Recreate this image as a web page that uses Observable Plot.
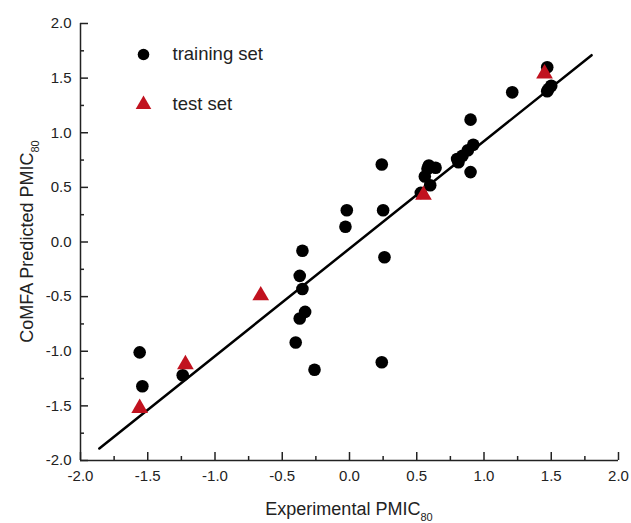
<!DOCTYPE html>
<html><head><meta charset="utf-8">
<script src="https://cdn.jsdelivr.net/npm/d3@7"></script>
<script src="https://cdn.jsdelivr.net/npm/@observablehq/plot@0.6"></script>
<style>
body{margin:0;background:#fff;}
svg{font-family:"Liberation Sans",Arial,sans-serif;}
</style>
</head><body><div id="chart"></div>
<script>
// Training set (black circles): experimental vs predicted PMIC80
const trainingX = [-1.56, -1.54, -1.24, -0.40, -0.37, -0.33, -0.35, -0.37, -0.35, -0.26,
                   -0.02, -0.03, 0.24, 0.25, 0.26, 0.24, 0.53, 0.56, 0.58, 0.59, 0.64, 0.60,
                   0.80, 0.81, 0.84, 0.88, 0.92, 0.90, 0.90, 1.21, 1.47, 1.47, 1.50, 1.48];
const trainingY = [-1.01, -1.32, -1.22, -0.92, -0.70, -0.64, -0.43, -0.31, -0.08, -1.17,
                   0.29, 0.14, 0.71, 0.29, -0.14, -1.10, 0.45, 0.60, 0.67, 0.70, 0.68, 0.52,
                   0.76, 0.73, 0.79, 0.84, 0.89, 0.64, 1.12, 1.37, 1.60, 1.38, 1.43, 1.40];
// Test set (red triangles)
const testX = [-1.56, -1.22, -0.66, 0.55, 1.45];
const testY = [-1.52, -1.12, -0.49, 0.43, 1.54];
// Regression line end points
const fitX = [-1.86, 1.80];
const fitY = [-1.89, 1.71];
// Axis ticks
const xMajorTicks = [-2, -1.5, -1, -0.5, 0, 0.5, 1, 1.5, 2];
const xMinorTicks = [-1.75, -1.25, -0.75, -0.25, 0.25, 0.75, 1.25, 1.75];
const yMajorTicks = [-2, -1.5, -1, -0.5, 0, 0.5, 1, 1.5, 2];
const yMinorTicks = [-1.75, -1.25, -0.75, -0.25, 0.25, 0.75, 1.25, 1.75];
const legendLabels = ["training set", "test set"];
const xTitle = ["Experimental PMIC", "80"];
const yTitle = ["CoMFA Predicted PMIC", "80"];

const training = trainingX.map((x, i) => ({x, y: trainingY[i]}));
const test = testX.map((x, i) => ({x, y: testY[i]}));
const fit = fitX.map((x, i) => ({x, y: fitY[i]}));

const W = 631, H = 523, mL = 80, mR = 13, mT = 23, mB = 63;
const innerW = W - mL - mR, innerH = H - mT - mB;
const ink = "#222";
const red = "#c1121f";
const fmt = d => d.toFixed(1);

const plot = Plot.plot({
  width: W, height: H,
  marginLeft: mL, marginRight: mR, marginTop: mT, marginBottom: mB,
  x: {domain: [-2, 2]},
  y: {domain: [-2, 2]},
  style: {fontFamily: "Liberation Sans, Arial, sans-serif", fontSize: "15px", color: ink, background: "white"},
  marks: [
    Plot.axisX(xMajorTicks, {tickSize: 0, tickPadding: 10, tickFormat: fmt, label: null, fontSize: 15}),
    Plot.axisY(yMajorTicks, {tickSize: 0, tickPadding: 9, tickFormat: fmt, label: null, fontSize: 15}),
    Plot.tickX(xMajorTicks, {x: d => d, insetTop: innerH - 8, stroke: ink, strokeWidth: 1.5}),
    Plot.tickX(xMinorTicks, {x: d => d, insetTop: innerH - 4, stroke: ink, strokeWidth: 1.5}),
    Plot.tickY(yMajorTicks, {y: d => d, insetRight: innerW - 8, stroke: ink, strokeWidth: 1.5}),
    Plot.tickY(yMinorTicks, {y: d => d, insetRight: innerW - 4, stroke: ink, strokeWidth: 1.5}),
    Plot.ruleX([-2], {stroke: ink, strokeWidth: 1.5}),
    Plot.ruleY([-2], {stroke: ink, strokeWidth: 1.5}),
    Plot.line(fit, {x: "x", y: "y", stroke: "black", strokeWidth: 2.5}),
    Plot.dot(training, {x: "x", y: "y", r: 6.3, fill: "black"}),
    Plot.dot(test, {x: "x", y: "y", r: 6.2, symbol: "triangle", fill: red}),
    // legend
    Plot.dot([legendLabels[0]], {x: null, y: null, frameAnchor: "top-left", dx: 63, dy: 31, r: 5.8, fill: "black"}),
    Plot.dot([legendLabels[1]], {x: null, y: null, frameAnchor: "top-left", dx: 63, dy: 81, r: 5.8, symbol: "triangle", fill: red}),
    Plot.text([legendLabels[0]], {x: null, y: null, text: d => d, frameAnchor: "top-left", dx: 92, dy: 31, lineAnchor: "middle", textAnchor: "start", fontSize: 18.5, fill: ink}),
    Plot.text([legendLabels[1]], {x: null, y: null, text: d => d, frameAnchor: "top-left", dx: 92, dy: 81, lineAnchor: "middle", textAnchor: "start", fontSize: 18.5, fill: ink})
  ]
});

const svg = d3.select(plot);
const xt = svg.append("text")
  .attr("x", mL + innerW / 2).attr("y", 515)
  .attr("text-anchor", "middle").attr("font-size", 18).attr("fill", ink);
xt.append("tspan").text(xTitle[0]);
xt.append("tspan").attr("font-size", 11).attr("dy", 6).text(xTitle[1]);

const yt = svg.append("text")
  .attr("transform", `translate(33,${mT + innerH / 2}) rotate(-90)`)
  .attr("text-anchor", "middle").attr("font-size", 18).attr("fill", ink);
yt.append("tspan").text(yTitle[0]);
yt.append("tspan").attr("font-size", 11).attr("dy", 6).text(yTitle[1]);

document.getElementById("chart").appendChild(plot);
</script>
</body></html>
